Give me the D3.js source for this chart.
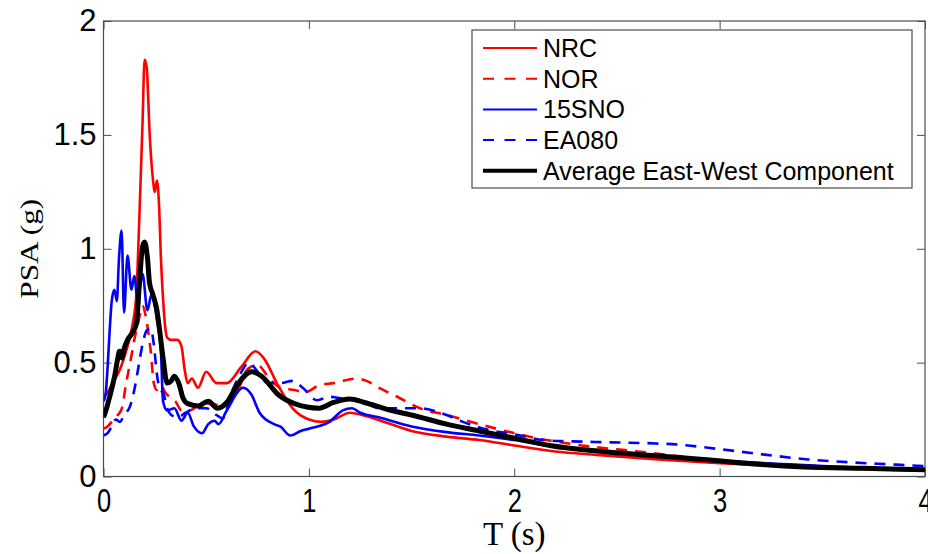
<head>
    <title>PSA spectra</title>
    <script src="https://cdnjs.cloudflare.com/ajax/libs/d3/7.8.5/d3.min.js"></script>
    <style>
        body {
            margin: 0;
            background: white;
        }

        svg {
            display: block;
        }
    </style>
</head>

<body>
    <svg id="chart" width="928" height="554"></svg>

    <script>
        // series data, [T (s), PSA (g)]
        const nrc = [[0, 0.35], [0.02, 0.37], [0.05, 0.42], [0.08, 0.47], [0.11, 0.55], [0.14, 0.66], [0.16, 0.8], [0.175, 1.15], [0.19, 1.55], [0.2, 1.83], [0.21, 1.8], [0.225, 1.5], [0.24, 1.31], [0.25, 1.25], [0.26, 1.3], [0.27, 1.2], [0.28, 0.95], [0.29, 0.78], [0.3, 0.66], [0.31, 0.61], [0.33, 0.6], [0.36, 0.6], [0.38, 0.57], [0.395, 0.47], [0.41, 0.41], [0.43, 0.43], [0.46, 0.39], [0.5, 0.46], [0.55, 0.41], [0.6, 0.41], [0.67, 0.48], [0.74, 0.55], [0.78, 0.52], [0.85, 0.4], [0.92, 0.3], [1.0, 0.25], [1.06, 0.24], [1.12, 0.25], [1.2, 0.28], [1.26, 0.27], [1.35, 0.245], [1.5, 0.2], [1.67, 0.175], [1.83, 0.16], [2.0, 0.136], [2.2, 0.11], [2.4, 0.095], [2.7, 0.075], [3.0, 0.058], [3.3, 0.045], [3.6, 0.035], [4.0, 0.025]];
        const nor = [[0, 0.21], [0.02, 0.22], [0.04, 0.24], [0.07, 0.27], [0.09, 0.3], [0.11, 0.41], [0.13, 0.5], [0.15, 0.6], [0.17, 0.68], [0.19, 0.75], [0.21, 0.68], [0.23, 0.55], [0.245, 0.41], [0.26, 0.38], [0.28, 0.4], [0.3, 0.37], [0.32, 0.35], [0.35, 0.33], [0.38, 0.29], [0.42, 0.29], [0.46, 0.31], [0.52, 0.32], [0.58, 0.31], [0.62, 0.33], [0.66, 0.39], [0.7, 0.47], [0.75, 0.49], [0.8, 0.44], [0.86, 0.39], [0.93, 0.38], [0.98, 0.37], [1.05, 0.4], [1.12, 0.41], [1.23, 0.43], [1.28, 0.42], [1.34, 0.39], [1.43, 0.35], [1.54, 0.3], [1.67, 0.27], [1.83, 0.23], [2.0, 0.19], [2.1, 0.17], [2.3, 0.14], [2.6, 0.11], [3.0, 0.07], [3.5, 0.045], [4.0, 0.03]];
        const sno15 = [[0, 0.33], [0.01, 0.36], [0.02, 0.48], [0.03, 0.64], [0.04, 0.77], [0.053, 0.82], [0.065, 0.77], [0.075, 0.95], [0.088, 1.08], [0.1, 0.72], [0.117, 0.97], [0.136, 0.82], [0.15, 0.88], [0.166, 0.77], [0.19, 0.89], [0.214, 0.73], [0.234, 0.8], [0.26, 0.69], [0.28, 0.54], [0.29, 0.33], [0.31, 0.29], [0.345, 0.3], [0.38, 0.245], [0.41, 0.28], [0.44, 0.22], [0.48, 0.19], [0.51, 0.23], [0.54, 0.245], [0.56, 0.23], [0.6, 0.29], [0.68, 0.39], [0.72, 0.36], [0.76, 0.28], [0.83, 0.23], [0.86, 0.22], [0.91, 0.18], [0.96, 0.2], [1.0, 0.21], [1.1, 0.24], [1.165, 0.29], [1.21, 0.3], [1.25, 0.28], [1.34, 0.26], [1.5, 0.22], [1.67, 0.195], [1.83, 0.18], [2.0, 0.16], [2.2, 0.13], [2.5, 0.105], [2.8, 0.085], [3.0, 0.07], [3.3, 0.055], [3.6, 0.042], [4.0, 0.032]];
        const ea080 = [[0, 0.18], [0.02, 0.19], [0.04, 0.22], [0.06, 0.25], [0.08, 0.24], [0.1, 0.27], [0.13, 0.31], [0.15, 0.38], [0.17, 0.48], [0.19, 0.58], [0.21, 0.64], [0.23, 0.65], [0.245, 0.58], [0.26, 0.45], [0.275, 0.38], [0.29, 0.37], [0.31, 0.3], [0.33, 0.27], [0.36, 0.26], [0.4, 0.28], [0.45, 0.3], [0.5, 0.3], [0.55, 0.27], [0.58, 0.255], [0.62, 0.36], [0.66, 0.44], [0.71, 0.5], [0.75, 0.46], [0.8, 0.41], [0.86, 0.41], [0.92, 0.42], [0.97, 0.39], [1.04, 0.335], [1.1, 0.35], [1.18, 0.34], [1.25, 0.335], [1.34, 0.3], [1.43, 0.3], [1.54, 0.3], [1.67, 0.27], [1.75, 0.24], [1.83, 0.215], [1.93, 0.195], [2.03, 0.18], [2.14, 0.16], [2.26, 0.155], [2.47, 0.15], [2.69, 0.145], [2.8, 0.14], [3.0, 0.12], [3.21, 0.097], [3.43, 0.075], [3.64, 0.062], [3.86, 0.052], [4.0, 0.045]];
        const average = [[0, 0.26], [0.015, 0.3], [0.03, 0.35], [0.054, 0.44], [0.07, 0.52], [0.078, 0.55], [0.09, 0.52], [0.1, 0.56], [0.117, 0.6], [0.14, 0.63], [0.16, 0.67], [0.175, 0.85], [0.19, 1.01], [0.2, 1.03], [0.214, 0.96], [0.224, 0.85], [0.24, 0.8], [0.26, 0.73], [0.275, 0.63], [0.29, 0.52], [0.31, 0.41], [0.33, 0.42], [0.345, 0.44], [0.37, 0.4], [0.385, 0.35], [0.41, 0.32], [0.46, 0.31], [0.51, 0.33], [0.555, 0.3], [0.6, 0.325], [0.65, 0.4], [0.72, 0.46], [0.77, 0.44], [0.85, 0.36], [0.93, 0.32], [1.05, 0.3], [1.12, 0.325], [1.2, 0.34], [1.27, 0.325], [1.38, 0.295], [1.5, 0.27], [1.67, 0.23], [1.83, 0.2], [1.99, 0.17], [2.18, 0.135], [2.43, 0.11], [2.67, 0.092], [2.92, 0.075], [3.17, 0.055], [3.41, 0.042], [3.7, 0.036], [4.0, 0.03]];

        const seriesNames = ["NRC", "NOR", "15SNO", "EA080", "Average East-West Component"];
        const xTicks = [0, 1, 2, 3, 4];
        const yTicks = [0, 0.5, 1, 1.5, 2];

        const series = [
            { name: seriesNames[0], data: nrc, color: "#ff0000", dash: null, width: 2.6 },
            { name: seriesNames[1], data: nor, color: "#ff0000", dash: "11,8", width: 2.6 },
            { name: seriesNames[2], data: sno15, color: "#0000ff", dash: null, width: 2.6 },
            { name: seriesNames[3], data: ea080, color: "#0000ff", dash: "11,8", width: 2.6 },
            { name: seriesNames[4], data: average, color: "#000000", dash: null, width: 5 }
        ];

        const plotLeft = 103.5, plotRight = 925, plotTop = 21, plotBottom = 476.5;
        const svg = d3.select("#chart");

        const x = d3.scaleLinear().domain([0, 4]).range([plotLeft, plotRight]);
        const y = d3.scaleLinear().domain([0, 2]).range([plotBottom, plotTop]);

        svg.append("defs").append("clipPath").attr("id", "plot-clip")
            .append("rect")
            .attr("x", plotLeft).attr("y", plotTop)
            .attr("width", plotRight - plotLeft).attr("height", plotBottom - plotTop);

        // axes, MATLAB style: ticks inward on all four sides
        const frameColor = "#4d4d4d";
        const tickLen = 8;
        svg.append("g")
            .attr("transform", `translate(0,${plotBottom})`)
            .call(d3.axisBottom(x).tickValues(xTicks).tickSizeInner(-tickLen).tickSizeOuter(0).tickFormat(d3.format("d")))
            .call(g => g.select(".domain").remove())
            .call(g => g.selectAll("line").attr("stroke", frameColor))
            .call(g => g.selectAll("text")
                .attr("y", 0).attr("dy", 0)
                .attr("fill", "black")
                .attr("transform", "translate(0,35) scale(0.85,1.1)")
                .style("font-family", "'Liberation Sans', Arial, sans-serif")
                .style("font-size", "30px"));
        svg.append("g")
            .attr("transform", `translate(0,${plotTop})`)
            .call(d3.axisTop(x).tickValues(xTicks).tickSizeInner(-tickLen).tickSizeOuter(0).tickFormat(""))
            .call(g => g.select(".domain").remove())
            .call(g => g.selectAll("line").attr("stroke", frameColor));
        svg.append("g")
            .attr("transform", `translate(${plotLeft},0)`)
            .call(d3.axisLeft(y).tickValues(yTicks).tickSizeInner(-tickLen).tickSizeOuter(0).tickPadding(7).tickFormat(d => d))
            .call(g => g.select(".domain").remove())
            .call(g => g.selectAll("line").attr("stroke", frameColor))
            .call(g => g.selectAll("text")
                .attr("fill", "black")
                .style("font-family", "'Liberation Sans', Arial, sans-serif")
                .style("font-size", "31px"));
        svg.append("g")
            .attr("transform", `translate(${plotRight},0)`)
            .call(d3.axisRight(y).tickValues(yTicks).tickSizeInner(-tickLen).tickSizeOuter(0).tickFormat(""))
            .call(g => g.select(".domain").remove())
            .call(g => g.selectAll("line").attr("stroke", frameColor));

        svg.append("rect")
            .attr("x", plotLeft).attr("y", plotTop)
            .attr("width", plotRight - plotLeft).attr("height", plotBottom - plotTop)
            .attr("fill", "none")
            .attr("stroke", frameColor)
            .attr("stroke-width", 1.2);

        // the spectra
        const line = d3.line()
            .x(d => x(d[0]))
            .y(d => y(d[1]))
            .curve(d3.curveMonotoneX);

        svg.append("g")
            .attr("clip-path", "url(#plot-clip)")
            .selectAll("path")
            .data(series)
            .join("path")
            .attr("d", d => line(d.data))
            .attr("fill", "none")
            .attr("stroke", d => d.color)
            .attr("stroke-width", d => d.width)
            .attr("stroke-dasharray", d => d.dash)
            .attr("stroke-linejoin", "round");

        // axis titles
        svg.append("text")
            .attr("x", (plotLeft + plotRight) / 2)
            .attr("y", 545)
            .attr("text-anchor", "middle")
            .style("font-family", "'Liberation Serif', 'Times New Roman', serif")
            .style("font-size", "33px")
            .text("T (s)");

        svg.append("text")
            .attr("transform", `translate(38,${(plotTop + plotBottom) / 2}) rotate(-90)`)
            .attr("text-anchor", "middle")
            .attr("textLength", 100)
            .attr("lengthAdjust", "spacingAndGlyphs")
            .style("font-family", "'Liberation Serif', 'Times New Roman', serif")
            .style("font-size", "26px")
            .text("PSA (g)");

        // legend
        const legend = svg.append("g");
        legend.append("rect")
            .attr("x", 472).attr("y", 30)
            .attr("width", 440).attr("height", 158)
            .attr("fill", "white")
            .attr("stroke", frameColor)
            .attr("stroke-width", 1.2);

        const rowGap = 30.7;
        const entry = legend.selectAll("g.entry")
            .data(series)
            .join("g")
            .attr("class", "entry")
            .attr("transform", (d, i) => `translate(0,${57 + i * rowGap})`);

        entry.append("line")
            .attr("x1", 483).attr("x2", 537)
            .attr("y1", -9).attr("y2", -9)
            .attr("stroke", d => d.color)
            .attr("stroke-width", d => d.width < 4 ? 2 : 4)
            .attr("stroke-dasharray", d => d.dash ? "11,10.5" : null);

        entry.append("text")
            .attr("x", 543)
            .attr("y", 0)
            .style("font-family", "'Liberation Sans', Arial, sans-serif")
            .style("font-size", "25px")
            .text(d => d.name);
    </script>
</body>
